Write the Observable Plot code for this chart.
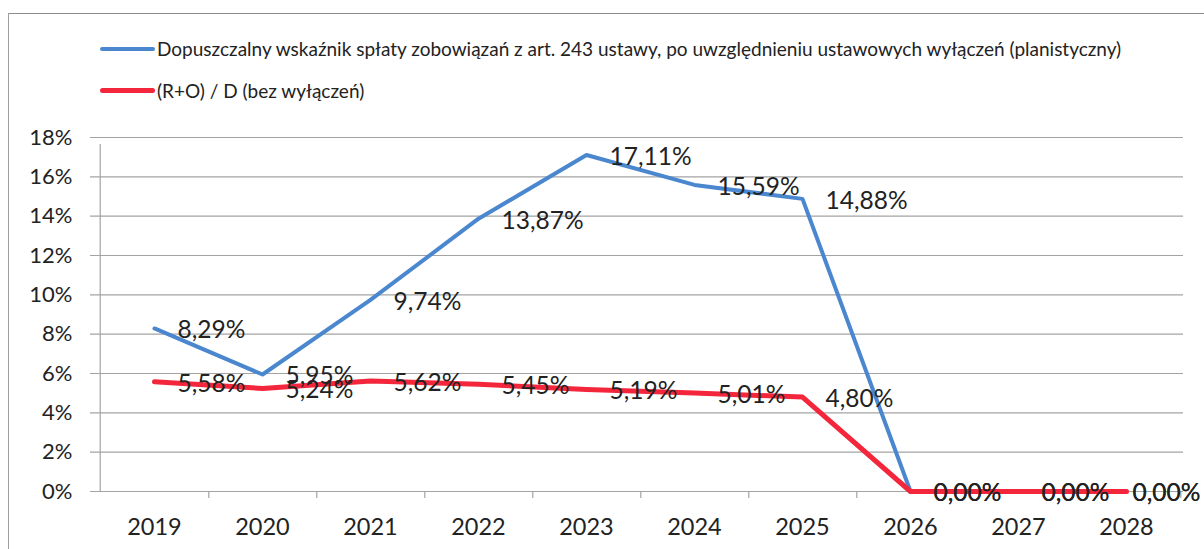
<!DOCTYPE html>
<html>
<head>
<meta charset="utf-8">
<script src="https://cdn.jsdelivr.net/npm/d3@7"></script>
<script src="https://cdn.jsdelivr.net/npm/@observablehq/plot@0.6"></script>
<style>
  html, body { margin: 0; padding: 0; background: #fff; }
  #wrap { position: relative; width: 1204px; height: 549px; overflow: hidden; font-family: Lato, "Open Sans", sans-serif; color: #222; }
  #frameTop { position: absolute; left: 8px; top: 13px; width: 1196px; height: 0; border-top: 1.5px solid #8c8c8c; }
  #frameLeft { position: absolute; left: 8px; top: 13px; width: 0; height: 536px; border-left: 1.5px solid #a0a0a0; }
  #legend { position: relative; height: 120px; }
  .item { position: absolute; left: 100px; display: flex; align-items: center; font-size: 19px; white-space: nowrap; }
  .swatch { width: 55px; height: 0; border-top-style: solid; border-radius: 3px; margin-right: 2px; }
  #chart svg { display: block; }
</style>
</head>
<body>
<div id="wrap">
  <div id="frameTop"></div>
  <div id="frameLeft"></div>
  <div id="legend"></div>
  <div id="chart"></div>
</div>
<script>
const years = [2019, 2020, 2021, 2022, 2023, 2024, 2025, 2026, 2027, 2028];
const seriesNames = [
  "Dopuszczalny wskaźnik spłaty zobowiązań z art. 243 ustawy, po uwzględnieniu ustawowych wyłączeń (planistyczny)",
  "(R+O) / D (bez wyłączeń)"
];
const blueValues = [8.29, 5.95, 9.74, 13.87, 17.11, 15.59, 14.88, 0, 0, 0];
const redValues = [5.58, 5.24, 5.62, 5.45, 5.19, 5.01, 4.80, 0, 0, 0];
const yTicks = [0, 2, 4, 6, 8, 10, 12, 14, 16, 18];
const colors = ["#4a87cf", "#f3263c"];
const widths = [4, 5];

const blueData = years.map((year, i) => ({year, value: blueValues[i]}));
const redData = years.map((year, i) => ({year, value: redValues[i]}));
const fmt = v => v.toFixed(2).replace(".", ",") + "%";
const lastYear = years[years.length - 1];

// legend
const legend = document.getElementById("legend");
seriesNames.forEach((name, i) => {
  const item = document.createElement("div");
  item.className = "item";
  item.style.top = (i === 0 ? 37 : 79) + "px";
  const sw = document.createElement("span");
  sw.className = "swatch";
  sw.style.borderTopColor = colors[i];
  sw.style.borderTopWidth = widths[i] + "px";
  const label = document.createElement("span");
  label.textContent = name;
  item.append(sw, label);
  legend.append(item);
});

const W = 1204, ML = 97, MR = 21;
const step = (W - ML - MR) / years.length;

const labelMarks = data => [
  Plot.text(data.filter(d => d.year !== lastYear), {x: "year", y: "value", text: d => fmt(d.value), dx: 23, dy: 2, textAnchor: "start", fontSize: 24.5, fill: "#222"}),
  Plot.text(data.filter(d => d.year === lastYear), {x: "year", y: "value", text: d => fmt(d.value), dx: 6, dy: 2, textAnchor: "start", fontSize: 24.5, fill: "#222"})
];

const chart = Plot.plot({
  width: W,
  height: 429,
  marginLeft: ML,
  marginRight: MR,
  marginTop: 17,
  marginBottom: 58,
  style: {fontFamily: "Lato, 'Open Sans', sans-serif", color: "#222", background: "transparent", overflow: "visible"},
  x: {type: "point", domain: years, padding: 0.5, label: null},
  y: {domain: [0, 18], label: null},
  marks: [
    Plot.ruleY(yTicks, {stroke: "#a3a3a3", strokeWidth: 1.2, insetLeft: -7}),
    Plot.ruleX([years[0]], {y1: 0, y2: 18, dx: -step / 2, stroke: "#a3a3a3", strokeWidth: 1.2, insetBottom: -7}),
    Plot.ruleX(years, {y1: 0, y2: 0, dx: step / 2, stroke: "#a3a3a3", strokeWidth: 1.2, insetBottom: -7}),
    Plot.line(blueData, {x: "year", y: "value", stroke: colors[0], strokeWidth: widths[0], strokeLinejoin: "round", strokeLinecap: "round"}),
    Plot.line(redData, {x: "year", y: "value", stroke: colors[1], strokeWidth: widths[1], strokeLinejoin: "round", strokeLinecap: "round"}),
    ...labelMarks(blueData),
    ...labelMarks(redData),
    Plot.axisY({ticks: yTicks, tickFormat: d => d + "%", tickSize: 0, tickPadding: 25, fontSize: 22, fill: "#222", label: null}),
    Plot.axisX({tickFormat: d => String(d), tickSize: 0, tickPadding: 27, fontSize: 23.5, fill: "#222", label: null})
  ]
});
document.getElementById("chart").append(chart);
</script>
</body>
</html>
